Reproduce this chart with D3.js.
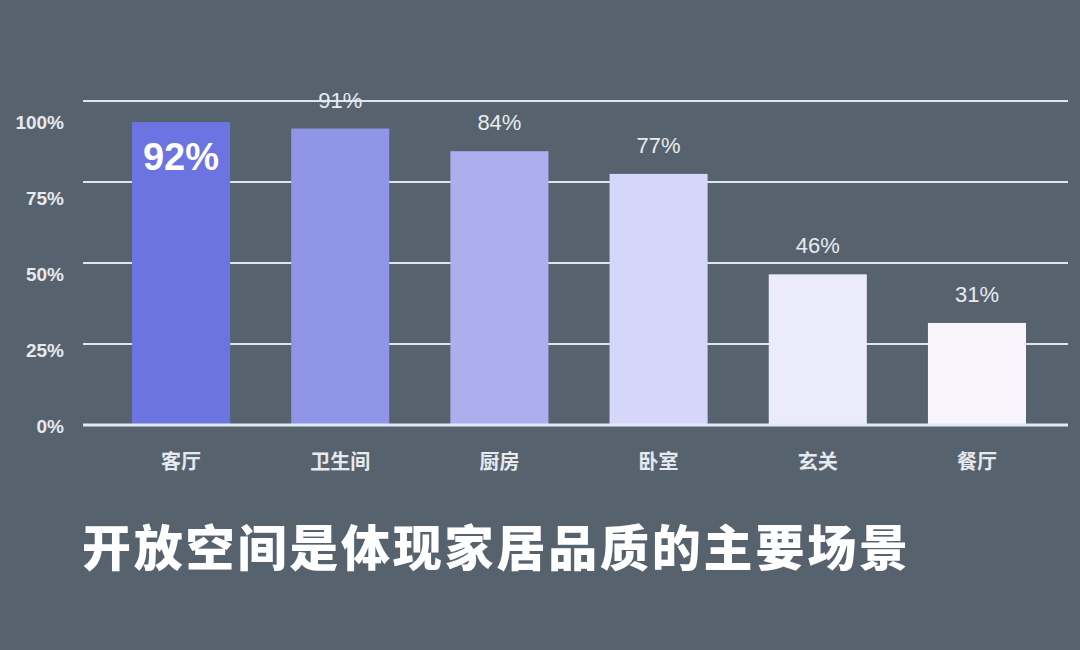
<!DOCTYPE html>
<html>
<head>
<meta charset="utf-8">
<script src="https://cdn.jsdelivr.net/npm/d3@7"></script>
<style>
  html, body { margin: 0; padding: 0; background: #56636e; }
  svg { display: block; font-family: "Noto Sans CJK SC", "Noto Sans", sans-serif; }
</style>
</head>
<body>
<script>
var categories = ["客厅", "卫生间", "厨房", "卧室", "玄关", "餐厅"];
var values = [93.5, 91.5, 84.5, 77.5, 46.5, 31.5];
var valueLabels = ["92%", "91%", "84%", "77%", "46%", "31%"];
var barColors = ["#6b74e0", "#9095e8", "#acaeee", "#d4d6fa", "#ecebfc", "#f7f4fc"];
var tickValues = [0, 25, 50, 75, 100];
var tickLabels = ["0%", "25%", "50%", "75%", "100%"];
var title = "开放空间是体现家居品质的主要场景";

var width = 1080, height = 650;

var svg = d3.select("body").append("svg")
    .attr("width", width)
    .attr("height", height);

svg.append("rect")
    .attr("width", width)
    .attr("height", height)
    .attr("fill", "#56636e");

var x = d3.scaleBand()
    .domain(categories)
    .range([132, 1026])
    .paddingInner(0.384)
    .paddingOuter(0);

var y = d3.scaleLinear().domain([0, 100]).range([425, 101]);
// tick labels in the original sit a bit off the grid lines
var yLabel = d3.scaleLinear().domain([0, 100]).range([426, 122]);

// grid lines
svg.selectAll(".grid")
    .data(tickValues.filter(function (d) { return d > 0; }))
    .enter().append("line")
    .attr("x1", 83).attr("x2", 1068)
    .attr("y1", function (d) { return y(d); })
    .attr("y2", function (d) { return y(d); })
    .attr("stroke", "#dfe5ec")
    .attr("stroke-width", 2);

// tick labels
svg.selectAll(".tick-label")
    .data(tickValues)
    .enter().append("text")
    .attr("x", 64)
    .attr("y", function (d) { return yLabel(d); })
    .attr("dy", "0.35em")
    .attr("text-anchor", "end")
    .attr("fill", "#e6e9ee")
    .attr("font-size", 19)
    .attr("font-weight", "bold")
    .attr("font-family", "Liberation Sans, Arial, sans-serif")
    .text(function (d, i) { return tickLabels[i]; });

// bars
svg.selectAll(".bar")
    .data(values)
    .enter().append("rect")
    .attr("x", function (d, i) { return x(categories[i]); })
    .attr("y", function (d) { return y(d); })
    .attr("width", x.bandwidth())
    .attr("height", function (d) { return y(0) - y(d); })
    .attr("fill", function (d, i) { return barColors[i]; });

// baseline
svg.append("line")
    .attr("x1", 83).attr("x2", 1068)
    .attr("y1", y(0)).attr("y2", y(0))
    .attr("stroke", "#e2e9f6")
    .attr("stroke-width", 3);

// value labels
svg.selectAll(".val")
    .data(values)
    .enter().append("text")
    .attr("x", function (d, i) { return x(categories[i]) + x.bandwidth() / 2; })
    .attr("y", function (d, i) { return i == 0 ? y(d) + 48 : y(d) - 21; })
    .attr("text-anchor", "middle")
    .attr("fill", function (d, i) { return i == 0 ? "#ffffff" : "#e8ebef"; })
    .attr("font-size", function (d, i) { return i == 0 ? 38 : 22; })
    .attr("font-weight", function (d, i) { return i == 0 ? "bold" : "normal"; })
    .attr("font-family", "Liberation Sans, Arial, sans-serif")
    .text(function (d, i) { return valueLabels[i]; });

// category labels
svg.append("g")
    .attr("transform", "translate(0,462)")
    .selectAll("text")
    .data(categories)
    .enter().append("text")
    .attr("x", function (d) { return x(d) + x.bandwidth() / 2; })
    .attr("dy", "0.35em")
    .attr("text-anchor", "middle")
    .attr("fill", "#e6e9ee")
    .attr("font-size", 20)
    .attr("font-weight", "bold")
    .text(function (d) { return d; });

// title
svg.append("text")
    .attr("x", 82)
    .attr("y", 549)
    .attr("dy", "0.35em")
    .attr("fill", "#ffffff")
    .attr("font-size", 49)
    .attr("font-weight", "900")
    .attr("letter-spacing", 2.8)
    .text(title);
</script>
</body>
</html>
